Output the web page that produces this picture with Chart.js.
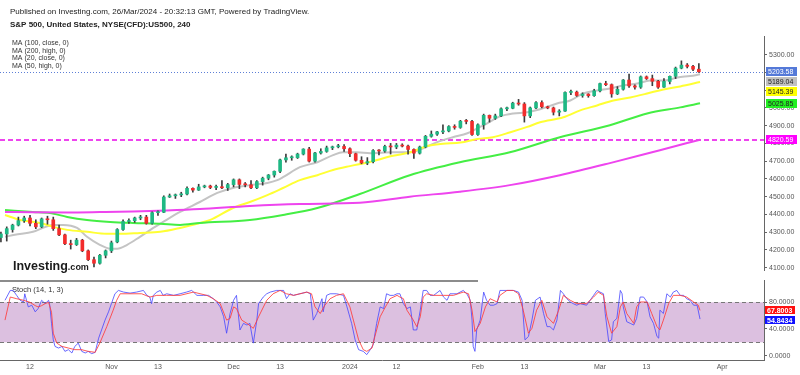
<!DOCTYPE html>
<html><head><meta charset="utf-8">
<script src="https://cdn.jsdelivr.net/npm/chart.js@4.4.0/dist/chart.umd.min.js"></script>
<style>
html,body{margin:0;padding:0;background:#fff;width:800px;height:375px;overflow:hidden}
#wrap{position:relative;width:800px;height:375px}
#main{position:absolute;left:0;top:0}
#stoch{position:absolute;left:0;top:280px}
</style></head><body>
<div id="wrap"><canvas id="main" width="800" height="280"></canvas><canvas id="stoch" width="800" height="95"></canvas></div>
<script>
const FONT = '"Liberation Sans", Arial, sans-serif';

// trading-session index (one per trading day, holidays skipped)
const sessions = [3,4,5,6,7,8,9,10,11,12,13,14,15,16,17,18,19,20,21,22,23,24,25,26,27,28,29,30,31,32,33,34,35,36,37,38,39,40,41,42,43,44,45,46,47,48,49,50,51,52,53,54,55,56,57,58,59,60,61,62,63,64,65,66,67,68,69,70,71,72,73,74,75,76,77,78,79,80,81,82,83,84,85,86,87,88,89,90,91,92,93,94,95,96,97,98,99,100,101,102,103,104,105,106,107,108,109,110,111,112,113,114,115,116,117,118,119,120,121,122,123];
const openP = [4270,4290,4315,4340,4365,4380,4350,4330,4375,4370,
4320,4285,4235,4230,4255,4195,4145,4125,4170,4195,
4245,4315,4360,4365,4380,4385,4350,4410,4412,4498,
4505,4510,4515,4547,4537,4555,4560,4552,4556,4550,
4568,4595,4569,4567,4550,4585,4604,4622,4643,4707,
4719,4720,4740,4768,4700,4746,4755,4775,4781,4783,
4770,4742,4705,4690,4697,4760,4757,4783,4780,4790,
4785,4766,4745,4780,4840,4852,4865,4870,4895,4890,
4925,4924,4850,4905,4958,4942,4955,4995,4998,5027,
5022,4955,5000,5030,5006,5000,4976,4982,5087,5089,
5070,5078,5069,5096,5137,5131,5079,5105,5157,5124,
5117,5175,5165,5150,5117,5149,5178,5224,5241,5234,
5218];
const highP = [4300,4330,4345,4385,4390,4395,4370,4380,4390,4385,
4340,4290,4255,4265,4260,4200,4160,4175,4200,4250,
4320,4370,4375,4385,4395,4395,4415,4420,4505,4515,
4515,4525,4555,4550,4570,4565,4565,4565,4590,4575,
4600,4600,4580,4590,4590,4610,4625,4645,4712,4740,
4730,4745,4770,4778,4750,4770,4785,4785,4795,4793,
4775,4745,4725,4720,4765,4765,4790,4800,4800,4798,
4790,4770,4785,4845,4870,4868,4905,4900,4905,4930,
4935,4930,4910,4965,4960,4965,5000,5005,5032,5048,
5030,5005,5035,5040,5010,5005,4990,5090,5100,5095,
5085,5080,5105,5140,5150,5135,5120,5160,5190,5130,
5180,5180,5185,5155,5165,5180,5230,5265,5250,5240,
5250];
const lowP = [4245,4250,4300,4335,4355,4335,4320,4325,4345,4310,
4280,4230,4205,4225,4190,4140,4105,4120,4155,4185,
4240,4310,4350,4355,4370,4345,4345,4395,4410,4495,
4490,4500,4510,4525,4535,4550,4545,4540,4545,4535,
4555,4545,4555,4545,4545,4565,4595,4610,4635,4695,
4705,4715,4735,4695,4695,4740,4750,4765,4775,4755,
4725,4700,4685,4680,4690,4735,4750,4740,4770,4780,
4740,4715,4740,4775,4835,4845,4855,4865,4880,4885,
4910,4845,4845,4880,4920,4935,4950,4985,4995,5015,
4920,4945,4995,5000,4995,4960,4955,4980,5075,5065,
5060,5060,5065,5090,5125,5060,5075,5100,5115,5105,
5110,5160,5125,5110,5115,5135,5165,5220,5225,5210,
5200];
const closeP = [4290,4320,4340,4365,4380,4350,4330,4375,4370,4320,
4285,4235,4230,4255,4195,4145,4125,4170,4195,4240,
4315,4360,4365,4380,4385,4350,4410,4412,4498,4505,
4510,4515,4547,4537,4555,4560,4552,4556,4550,4568,
4595,4569,4567,4550,4585,4604,4622,4643,4707,4719,
4720,4740,4768,4700,4746,4755,4775,4781,4783,4770,
4742,4705,4690,4697,4760,4757,4783,4780,4790,4785,
4766,4745,4780,4840,4852,4865,4870,4895,4890,4925,
4924,4850,4905,4958,4942,4955,4995,4998,5027,5022,
4955,5000,5030,5006,5000,4976,4982,5087,5089,5070,
5078,5069,5096,5137,5131,5079,5105,5157,5124,5117,
5175,5165,5150,5117,5149,5178,5224,5241,5234,5218,
5203.58];

// moving averages: [session, value]
const ma20 = [[3.7,4274],[5.4,4285],[8.5,4302],[12,4341],[13.7,4341],[16.1,4324],[17.8,4274],[20,4229],[21.8,4207],[23,4207],[24.7,4229],[26.9,4274],[29.2,4324],[30.9,4358],[33.8,4414],[37.2,4470],[40.2,4521],[42.9,4549],[45.8,4565],[48.8,4577],[50.5,4593],[51.5,4610],[54.4,4666],[57.4,4694],[60.1,4734],[61.8,4750],[64.2,4750],[66.5,4745],[70.4,4750],[73.4,4750],[75.6,4773],[78,4807],[80.7,4835],[83.2,4857],[84.9,4885],[86.6,4913],[88.8,4952],[91.1,4969],[93.5,4975],[95.7,4992],[98.6,5025],[100.9,5042],[103.1,5081],[105.5,5098],[107.7,5109],[110,5126],[112.4,5137],[114.6,5154],[116.9,5154],[119.3,5171],[121.5,5180],[123.2,5189.04]];
const ma50 = [[3.7,4397],[6.3,4369],[9.7,4352],[12,4330],[14.4,4313],[17.8,4302],[21.2,4291],[23.5,4291],[26.9,4296],[30.4,4302],[33.8,4324],[37.2,4352],[39,4369],[42.9,4436],[45.8,4470],[48.8,4509],[51.5,4549],[54.4,4593],[57.4,4621],[60.1,4650],[63,4672],[66,4692],[70.4,4730],[73.4,4750],[76.3,4785],[79,4798],[82,4805],[84.9,4825],[87.6,4835],[90.6,4863],[93.5,4893],[95.7,4919],[99.7,4947],[102.6,4986],[105.5,5014],[108.3,5042],[111.2,5059],[114.1,5081],[116.9,5104],[119.8,5121],[123.2,5145.39]];
const ma100 = [[3.7,4425],[8.5,4414],[11.4,4408],[14.4,4386],[17.8,4369],[21.8,4358],[25.7,4352],[30.4,4347],[33.8,4341],[37.2,4352],[45.8,4369],[51.5,4397],[57.4,4436],[64.7,4515],[73.3,4621],[81.9,4694],[90.5,4750],[99.1,4835],[107.7,4902],[114.1,4969],[119.8,5003],[123.2,5025.85]];
const ma200 = [[3.7,4414],[8.5,4412],[14.4,4411],[20,4413],[25.7,4416],[31.5,4422],[37.2,4430],[45.8,4448],[54.4,4459],[64.7,4466],[73.3,4500],[81.9,4528],[90.5,4565],[99.1,4621],[107.7,4689],[116.3,4762],[123.2,4820.59]];

// stochastic (14,1,3): [session, value]
const stochK = [[3.7,83],[4.6,97.8],[5.1,97.8],[5.7,90.4],[6.3,83],[6.9,80.5],[7.1,92.8],[7.7,73.1],[8.3,75.6],[8.9,65.7],[9.4,70.6],[10,83],[10.6,78],[11.2,83],[11.4,75.6],[11.7,48.4],[12,23.7],[12.3,13.8],[12.9,11.4],[13.5,13.8],[14,6.4],[14.6,8.9],[15.2,4],[15.7,13.8],[16.3,18.8],[16.9,6.4],[17.5,4],[18,6.4],[18.6,3],[19.2,4.9],[19.8,26.2],[20.3,38.5],[20.9,53.3],[21.5,65.7],[22,78],[22.6,92.8],[23.2,97.8],[24.1,95.3],[25.2,93.8],[26.3,95.3],[27.5,97.8],[28.1,90.4],[28.6,87.9],[28.9,78],[29.2,90.4],[29.8,95.3],[30.4,97.8],[30.9,90.4],[31.5,92.8],[32.7,90.4],[33.8,92.8],[34.9,95.3],[35.8,97.8],[36.7,90.4],[37.8,90.4],[38.7,90.4],[39.5,85.4],[40.1,80.5],[40.7,73.1],[41.3,58.3],[41.8,33.6],[42.4,63.2],[43,83],[43.5,90.4],[43.8,63.2],[44.1,38.5],[44.7,48.4],[45.3,45.9],[45.8,48.4],[46.4,18.8],[47,53.3],[47.3,78],[48.1,87.9],[48.7,92.8],[49.3,95.3],[50.4,97.8],[51.6,97.8],[52.1,85.4],[52.7,92.8],[53.3,90.4],[54.4,92.8],[55.6,95.3],[56.2,92.8],[56.7,53.3],[57.3,63.2],[57.9,78],[58.2,85.4],[58.4,65.7],[59,90.4],[59.6,92.8],[60.7,92.8],[61.9,90.4],[62.5,73.1],[63.3,48.4],[63.9,23.7],[64.5,8.9],[65.3,6.4],[65.9,1.5],[66.5,8.9],[67,16.3],[67.6,48.4],[68.2,73.1],[68.8,70.6],[69.3,92.8],[69.9,90.4],[70.5,90.4],[71.1,92.8],[71.6,92.8],[72.2,78],[72.8,70.6],[73.4,73.1],[73.9,38.5],[74.5,38.5],[75.1,68.2],[75.6,97.8],[76.2,97.8],[76.8,90.4],[77.4,90.4],[78.5,97.8],[79.1,87.9],[79.7,83],[80.2,92.8],[81.4,92.8],[82.5,97.8],[83.1,92.8],[83.7,83],[84,53.3],[84.2,13.8],[84.5,6.4],[84.8,38.5],[85.4,53.3],[86,95.3],[86.5,83],[87.1,75.6],[87.7,75.6],[88.3,78],[88.8,97.8],[90,97.8],[91.1,97.8],[92,95.3],[92.6,83],[93.1,23.7],[93.7,28.7],[94.3,53.3],[94.9,83],[95.7,87.9],[96.3,63.2],[96.9,43.5],[97.4,43.5],[98,38.5],[98.6,53.3],[99.2,97.8],[99.7,92.8],[100.3,85.4],[100.9,80.5],[101.4,78],[102,75.6],[102.6,78],[103.7,75.6],[104.9,90.4],[105.5,97.8],[106,95.3],[106.6,92.8],[106.9,63.2],[107.5,21.2],[108,23.7],[108.3,50.9],[108.9,55.8],[109.5,97.8],[109.8,92.8],[110,73.1],[110.6,50.9],[111.2,48.4],[111.8,45.9],[112.3,55.8],[112.9,87.9],[113.5,87.9],[114.1,80.5],[114.6,58.3],[115.2,48.4],[115.8,28.7],[116.1,26.2],[116.3,68.2],[116.9,63.2],[117.5,92.8],[118.1,87.9],[118.6,95.3],[119.2,97.8],[119.8,90.4],[120.4,90.4],[120.9,85.4],[121.5,83],[122.1,75.6],[122.7,75.6],[123.2,54.8434]];
const stochD = [[3.7,53.3],[4.6,87.9],[5.7,85.4],[6.9,83],[8,80],[8.9,75],[9.4,73],[10,75],[10.6,78],[11.2,80],[11.7,65],[12,33.6],[12.6,18.8],[13.5,13.8],[14.6,11.4],[15.7,9],[16.9,8.9],[18,6.4],[19.2,5],[20,18.8],[21.2,43.5],[22.3,68.2],[22.9,83],[23.5,92.8],[25.2,92.8],[27.2,92.8],[28.6,87.9],[29.8,90.4],[31.5,90.4],[33.8,90.4],[36.1,95.3],[38.4,90.4],[39.5,85.4],[40.7,78],[41.8,53.3],[42.4,55.8],[43,73.1],[43.5,70.6],[44.4,53.3],[45.3,48.4],[46.4,41],[47.3,58.3],[48.7,83],[49.8,92.8],[51,97.8],[52.1,92.8],[53.3,90.4],[55.6,95.3],[56.4,92.8],[57,73.1],[57.9,63.2],[58.7,75.6],[59.6,85.4],[60.7,90.4],[61.9,92.8],[63,73.1],[63.6,53.3],[64.5,23.7],[65.3,8.9],[65.9,6.4],[66.8,11.4],[67.3,28.7],[68.2,58.3],[68.8,68.2],[69.9,85.4],[71.1,90.4],[71.6,87.9],[72.2,85.4],[72.8,68.2],[73.9,53.3],[74.5,43.5],[75.1,58.3],[75.6,87.9],[76.2,92.8],[77.4,90.4],[79.1,90.4],[80.8,90.4],[82.5,95.3],[83.4,92.8],[84,68.2],[84.5,36.1],[85.4,48.4],[86.3,73.1],[87.1,85.4],[88.3,80.5],[88.8,90.4],[90,97.8],[91.1,97.8],[92,92.8],[92.8,68.2],[93.7,33.6],[94.3,41],[95.1,68.2],[96,83],[96.9,58.3],[98,48.4],[98.9,68.2],[99.7,90.4],[100.9,83],[102,78],[103.7,78],[104.9,87.9],[105.7,95.3],[106.6,90.4],[107.2,58.3],[108,33.6],[108.9,43.5],[109.5,73.1],[110,80.5],[110.6,63.2],[111.8,48.4],[112.3,73.1],[112.9,80.5],[114.1,80.5],[114.9,63.2],[115.8,43.5],[116.3,38.5],[116.9,53.3],[117.8,78],[118.6,90.4],[119.8,90.4],[120.9,87.9],[122.1,80.5],[122.9,75.6],[123.2,67.8003]];
const stochLevels = [20, 80];

const priceTicks = [4100,4200,4300,4400,4500,4600,4700,4800,4900,5000,5100,5200,5300];
const stochTicks = [0, 40, 80];
const xTickPos = [8, 22, 30, 43, 51, 63, 71, 85, 93, 106, 114, 127];
const xTickLabels = ['12','Nov','13','Dec','13','2024','12','Feb','13','Mar','13','Apr'];
const xRange = [2.84, 134.2];
const priceRange = [4087, 5405];
const stochRange = [-6.55, 113.45];

const headerLines = ['Published on Investing.com, 26/Mar/2024 - 20:32:13 GMT, Powered by TradingView.', 'S&P 500, United States, NYSE(CFD):US500, 240'];
const legendLines = ['MA (100, close, 0)', 'MA (200, high, 0)', 'MA (20, close, 0)', 'MA (50, high, 0)'];

const UP = '#1fb884', DOWN = '#f22c2c';
const C_MA20 = '#c4c4c4', C_MA50 = '#ffff33', C_MA100 = '#44ee44', C_MA200 = '#ee44ee';

const pts = arr => arr.map(p => ({x: p[0], y: p[1]}));
const lastOf = arr => arr[arr.length - 1][1];

function tag(ctx, x, y, w, h, bg, fg, text, bold) {
  ctx.fillStyle = bg;
  ctx.fillRect(x, Math.round(y - h / 2), w, h);
  ctx.fillStyle = fg;
  ctx.font = (bold ? 'bold ' : '') + '7px ' + FONT;
  ctx.textAlign = 'left';
  ctx.textBaseline = 'middle';
  ctx.fillText(text, x + 2, y + 0.5);
}

const mainPlugin = {
  id: 'mainDeco',
  beforeDatasetsDraw(chart) {
    const {ctx, chartArea: a, scales: {y}} = chart;
    ctx.save();
    ctx.beginPath(); ctx.rect(a.left, a.top, a.right - a.left, a.bottom - a.top); ctx.clip();
    ctx.strokeStyle = '#5d7fd6'; ctx.lineWidth = 1; ctx.setLineDash([1, 2]);
    let yy = Math.round(y.getPixelForValue(closeP[closeP.length - 1])) + 0.5;
    ctx.beginPath(); ctx.moveTo(a.left, yy); ctx.lineTo(a.right, yy); ctx.stroke();
    ctx.strokeStyle = '#ee44ee'; ctx.lineWidth = 2; ctx.setLineDash([5, 3]);
    yy = Math.round(y.getPixelForValue(lastOf(ma200)));
    ctx.beginPath(); ctx.moveTo(a.left, yy); ctx.lineTo(a.right, yy); ctx.stroke();
    ctx.restore();
  },
  afterDraw(chart) {
    const {ctx, chartArea: a, scales: {y}} = chart;
    ctx.save();
    ctx.fillStyle = '#222';
    ctx.textAlign = 'left'; ctx.textBaseline = 'middle';
    ctx.font = '8px ' + FONT;
    ctx.fillText(headerLines[0], 10, 11.5);
    ctx.font = 'bold 8px ' + FONT;
    ctx.fillText(headerLines[1], 10, 25);
    ctx.font = '7px ' + FONT;
    ctx.fillStyle = '#333';
    legendLines.forEach((t, i) => ctx.fillText(t, 12, 43.5 + i * 7.5));
    ctx.textBaseline = 'alphabetic';
    ctx.fillStyle = '#1b1b1b';
    ctx.font = 'bold 12.5px ' + FONT;
    ctx.fillText('Investing', 13, 270);
    const w = ctx.measureText('Investing').width;
    ctx.font = 'bold 9px ' + FONT;
    ctx.fillText('.com', 13 + w, 270);
    const tags = [
      {v: closeP[closeP.length - 1], bg: '#5479d8', fg: '#fff'},
      {v: lastOf(ma20), bg: '#c0c0c0', fg: '#222'},
      {v: lastOf(ma50), bg: '#ffff00', fg: '#222'},
      {v: lastOf(ma100), bg: '#22ee22', fg: '#222'},
      {v: lastOf(ma200), bg: '#ff00ff', fg: '#fff'}
    ];
    let prev = -1e9;
    tags.forEach(t => {
      let py = y.getPixelForValue(t.v);
      py = Math.max(py, prev + 10);
      prev = py;
      tag(ctx, a.right + 2, py, 31, 9, t.bg, t.fg, t.v.toFixed(2), false);
    });
    ctx.restore();
  }
};

new Chart(document.getElementById('main'), {
  type: 'bar',
  data: {
    datasets: [
      {type: 'line', data: pts(ma200), borderColor: C_MA200, borderWidth: 2, pointRadius: 0, cubicInterpolationMode: 'monotone', order: 5},
      {type: 'line', data: pts(ma100), borderColor: C_MA100, borderWidth: 2, pointRadius: 0, cubicInterpolationMode: 'monotone', order: 5},
      {type: 'line', data: pts(ma50), borderColor: C_MA50, borderWidth: 2, pointRadius: 0, cubicInterpolationMode: 'monotone', order: 5},
      {type: 'line', data: pts(ma20), borderColor: C_MA20, borderWidth: 2, pointRadius: 0, cubicInterpolationMode: 'monotone', order: 5},
      {type: 'bar', data: sessions.map((t, i) => ({x: t, y: [lowP[i], highP[i]]})), backgroundColor: '#3c3c3c', barThickness: 1, grouped: false, borderWidth: 0, order: 3},
      {type: 'bar', data: sessions.map((t, i) => ({x: t, y: [openP[i], closeP[i]]})), backgroundColor: sessions.map((t, i) => closeP[i] >= openP[i] ? UP : DOWN), barThickness: 3, grouped: false, borderWidth: 0, minBarLength: 1, order: 1}
    ]
  },
  options: {
    responsive: false, animation: false, devicePixelRatio: 1,
    layout: {padding: {top: 36, bottom: 10, left: 0, right: 0}},
    plugins: {legend: {display: false}, tooltip: {enabled: false}},
    scales: {
      x: {type: 'linear', min: xRange[0], max: xRange[1], display: false, offset: false},
      y: {
        position: 'right', min: priceRange[0], max: priceRange[1],
        afterBuildTicks: s => { s.ticks = priceTicks.map(v => ({value: v})); },
        afterFit: s => { s.width = 36; s.paddingTop = 0; s.paddingBottom = 0; },
        grid: {drawOnChartArea: false, drawTicks: true, tickLength: 3, color: '#666'},
        border: {display: true, color: '#666'},
        ticks: {font: {size: 7, family: FONT}, color: '#555', padding: 2, callback: v => Number(v).toFixed(2)}
      }
    }
  },
  plugins: [mainPlugin]
});

const stochPlugin = {
  id: 'stochDeco',
  beforeDatasetsDraw(chart) {
    const {ctx, chartArea: a, scales: {y}} = chart;
    ctx.save();
    const y80 = y.getPixelForValue(stochLevels[1]), y20 = y.getPixelForValue(stochLevels[0]);
    ctx.fillStyle = '#dcc0e0';
    ctx.fillRect(a.left, y80, a.right - a.left, y20 - y80);
    ctx.strokeStyle = '#777'; ctx.lineWidth = 1; ctx.setLineDash([4, 3]);
    [y80, y20].forEach(yy => { ctx.beginPath(); ctx.moveTo(a.left, Math.round(yy) + 0.5); ctx.lineTo(a.right, Math.round(yy) + 0.5); ctx.stroke(); });
    ctx.setLineDash([]);
    ctx.strokeStyle = '#666'; ctx.lineWidth = 1.5;
    ctx.beginPath(); ctx.moveTo(0, 1); ctx.lineTo(478, 1); ctx.stroke();
    ctx.fillStyle = '#333'; ctx.font = '7.5px ' + FONT; ctx.textAlign = 'left'; ctx.textBaseline = 'middle';
    ctx.fillText('Stoch (14, 1, 3)', 12, 10);
    ctx.restore();
  },
  afterDraw(chart) {
    const {ctx, chartArea: a, scales: {y}} = chart;
    ctx.save();
    const dv = lastOf(stochD), kv = lastOf(stochK);
    let yd = y.getPixelForValue(dv), yk = y.getPixelForValue(kv);
    if (yk - yd < 10) yk = yd + 10;
    tag(ctx, a.right + 1, yd, 30, 8, '#ff1010', '#fff', dv.toFixed(4), true);
    tag(ctx, a.right + 1, yk, 30, 8, '#1010ff', '#fff', kv.toFixed(4), true);
    ctx.restore();
  }
};

new Chart(document.getElementById('stoch'), {
  type: 'line',
  data: {
    datasets: [
      {data: pts(stochD), borderColor: 'rgba(255,60,60,0.85)', borderWidth: 1, pointRadius: 0, tension: 0},
      {data: pts(stochK), borderColor: 'rgba(70,70,255,0.8)', borderWidth: 1, pointRadius: 0, tension: 0}
    ]
  },
  options: {
    responsive: false, animation: false, devicePixelRatio: 1,
    layout: {padding: {top: 0, bottom: 0, left: 0, right: 0}},
    plugins: {legend: {display: false}, tooltip: {enabled: false}},
    scales: {
      x: {
        type: 'linear', min: xRange[0], max: xRange[1], offset: false,
        afterBuildTicks: s => { s.ticks = xTickPos.map(v => ({value: v})); },
        afterFit: s => { s.height = 15; s.paddingLeft = 0; s.paddingRight = 0; },
        grid: {display: false, drawTicks: false},
        border: {display: true, color: '#666'},
        ticks: {autoSkip: false, maxRotation: 0, padding: 3, font: {size: 7, family: FONT}, color: '#555',
          callback: v => xTickLabels[xTickPos.indexOf(v)]}
      },
      y: {
        position: 'right', min: stochRange[0], max: stochRange[1],
        afterBuildTicks: s => { s.ticks = stochTicks.map(v => ({value: v})); },
        afterFit: s => { s.width = 36; s.paddingTop = 0; s.paddingBottom = 0; },
        grid: {drawOnChartArea: false, drawTicks: true, tickLength: 3, color: '#666'},
        border: {display: true, color: '#666'},
        ticks: {font: {size: 7, family: FONT}, color: '#555', padding: 2, callback: v => Number(v).toFixed(4)}
      }
    }
  },
  plugins: [stochPlugin]
});
</script>
</body></html>
